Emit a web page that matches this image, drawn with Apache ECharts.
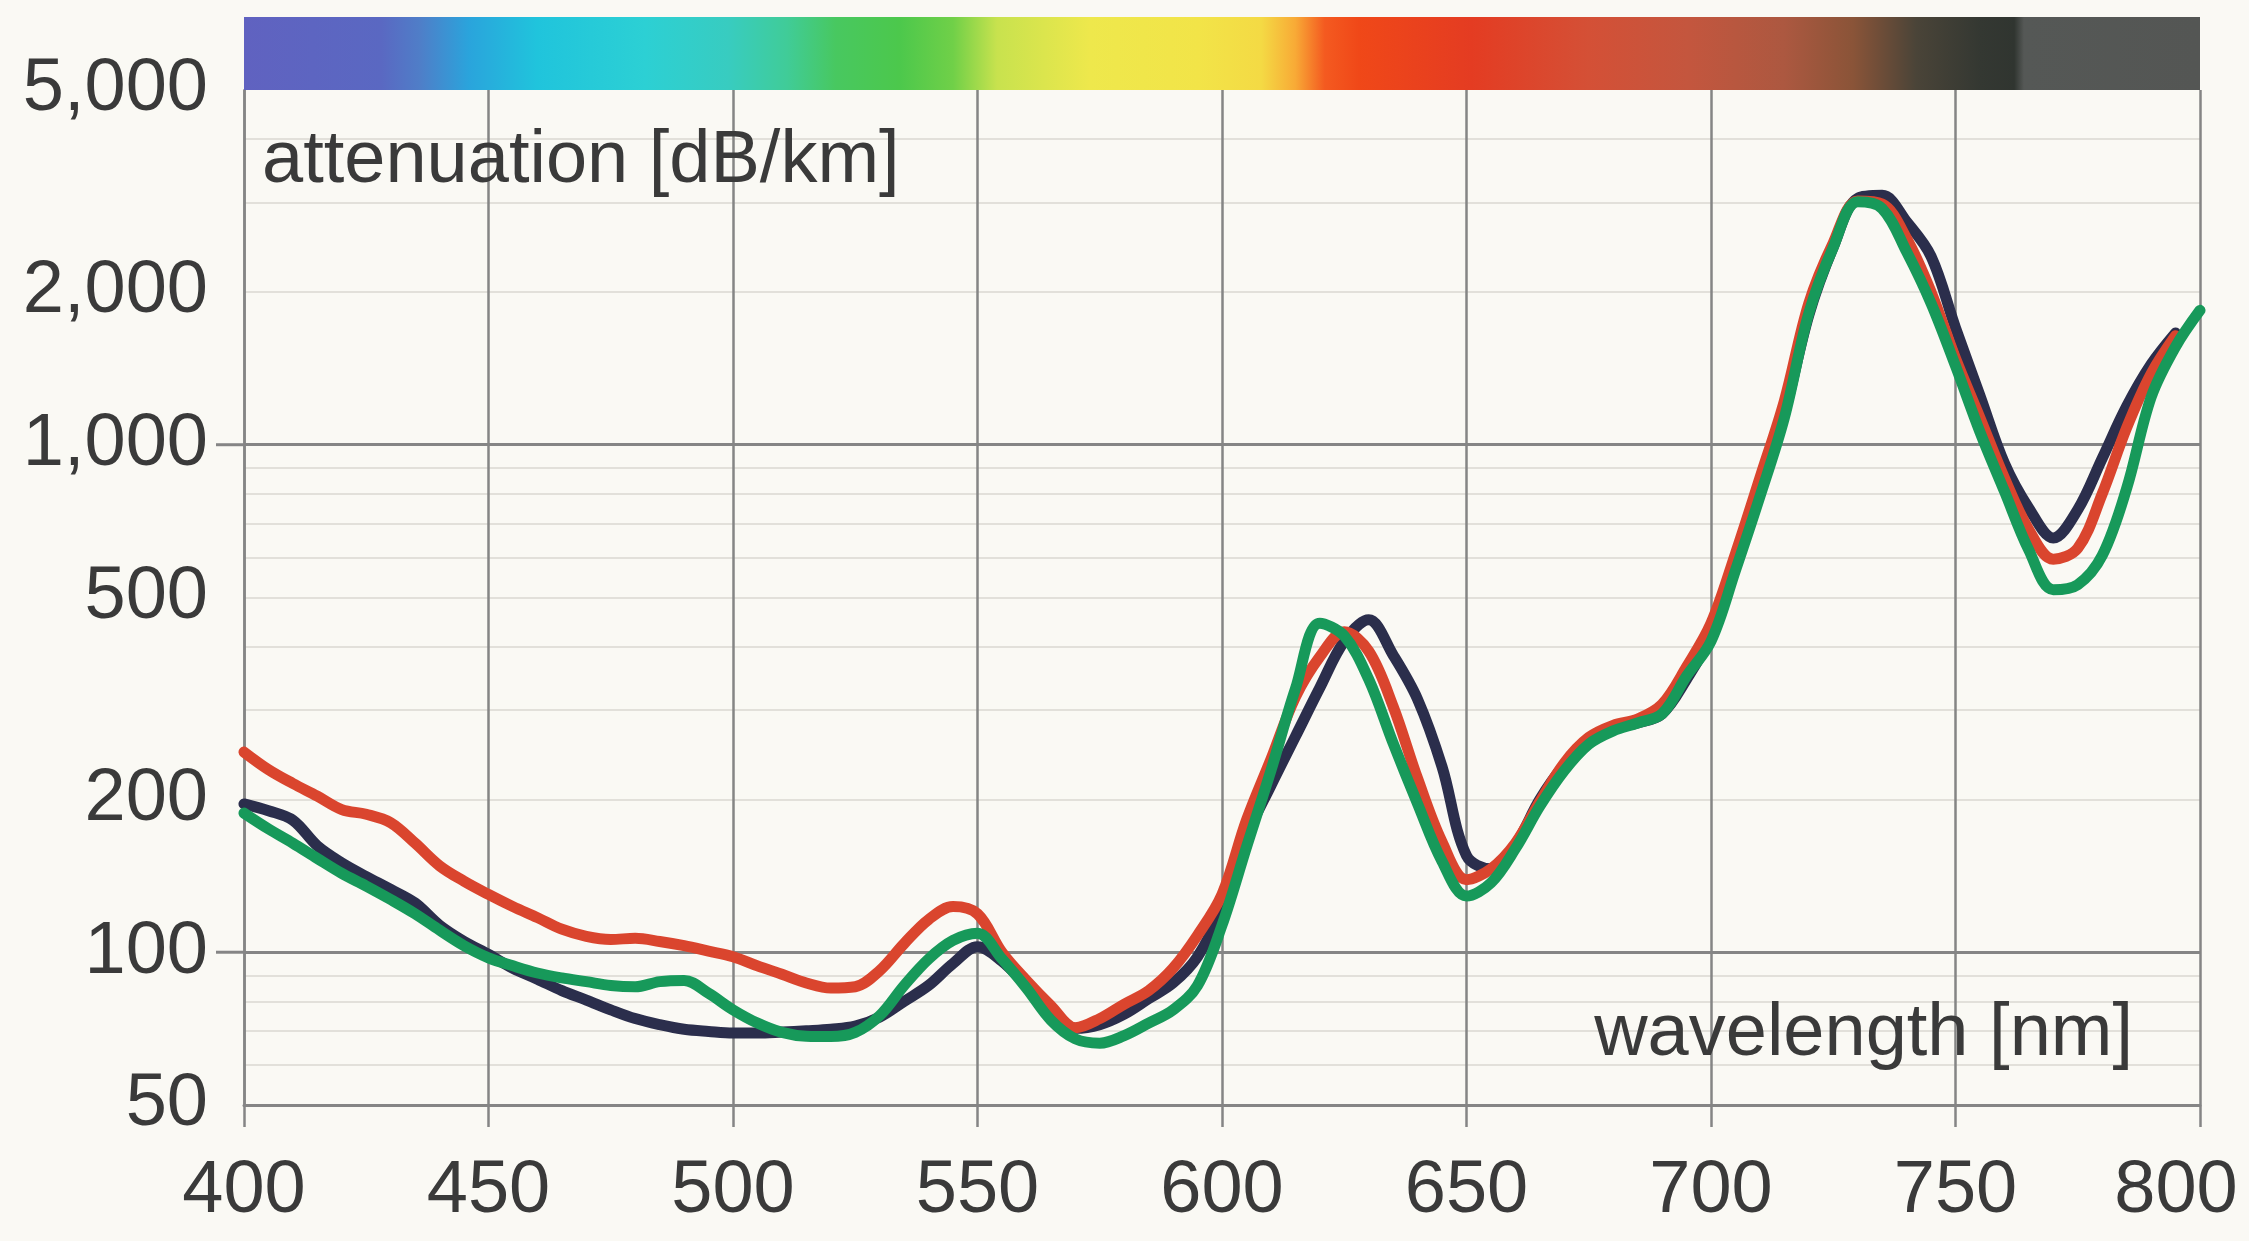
<!DOCTYPE html>
<html>
<head>
<meta charset="utf-8">
<title>attenuation spectrum</title>
<script src="https://cdn.jsdelivr.net/npm/echarts@6/dist/echarts.min.js"></script>
<style>
  html, body { margin: 0; padding: 0; background: #faf9f4; }
  #chart { width: 2249px; height: 1241px; }
</style>
</head>
<body>
<div id="chart"></div>
<script>
// wavelength [nm]
const wavelengths = [
  400, 405, 410, 415, 420, 425, 430, 435, 440, 445,
  450, 455, 460, 465, 470, 475, 480, 485, 490, 495,
  500, 505, 510, 515, 520, 525, 530, 535, 540, 545,
  550, 555, 560, 565, 570, 575, 580, 585, 590, 595,
  600, 605, 610, 615, 620, 625, 630, 635, 640, 645,
  650, 655, 660, 665, 670, 675, 680, 685, 690, 695,
  700, 705, 710, 715, 720, 725, 730, 735, 740, 745,
  750, 755, 760, 765, 770, 775, 780, 785, 790, 795,
  800
];

// attenuation [dB/km]
const navyFibre = [
  196, 190, 182, 162, 150, 141, 133, 125, 113, 105,
  99, 93, 88.5, 84, 80.5, 77, 74, 72, 70.5, 69.8,
  69.3, 69.3, 69.6, 70, 70.5, 71.5, 74.5, 80, 86, 95,
  102.5, 96, 86, 77, 70.8, 72, 75.5, 81, 87, 98,
  122, 169, 213, 266, 332, 410, 452, 385, 315, 232,
  155, 146, 163, 200, 234, 262, 276, 283, 295, 345,
  420, 580, 820, 1150, 1800, 2450, 3060, 3100, 2750, 2350,
  1700, 1250, 920, 750, 655, 745, 940, 1190, 1440, 1660,
  null
];

const redFibre = [
  248, 229, 215, 203, 191, 187, 180, 164, 148, 138,
  130, 123, 117, 111, 107.5, 106, 106.5, 105, 103, 100.5,
  98, 94, 90.5, 87, 85, 85.5, 92, 104, 116, 123,
  119, 100, 88, 78.5, 71, 74, 79, 84, 93, 108,
  130, 182, 240, 318, 382, 428, 392, 305, 220, 165,
  139, 146, 164, 198, 236, 265, 280, 288, 308, 365,
  445, 610, 860, 1220, 1900, 2500, 3020, 2980, 2550, 2000,
  1480, 1130, 860, 680, 595, 625, 800, 1080, 1380, 1640,
  null
];

const greenFibre = [
  188, 175, 164, 153, 143, 135, 127, 119, 110.5, 103,
  97.5, 94, 91, 89, 87.5, 86, 85.5, 87.5, 88, 83,
  77, 72.5, 69.5, 68.3, 68.2, 69.5, 75, 86, 97, 105.5,
  109, 97, 85, 73.5, 67.5, 66.2, 68.5, 72.5, 77, 86,
  113, 161, 228, 330, 445, 420, 345, 258, 196, 151,
  129, 137, 160, 194, 228, 257, 273, 283, 295, 350,
  410, 565, 790, 1130, 1815, 2450, 3010, 2920, 2400, 1900,
  1430, 1060, 810, 620, 518, 530, 605, 820, 1240, 1560,
  1840
];

// axis labels and grid lines
const yLabelValues = [50, 100, 200, 500, 1000, 2000, 5000];
const yMajorLines = [100, 1000];
const yMinorLines = [60, 70, 80, 90, 200, 300, 400, 500, 600, 700, 800, 900, 2000, 3000, 4000];

// colour strip of the visible spectrum (wavelength -> colour)
const spectrumNm = [400, 428, 436, 446, 460, 482, 499, 511, 521, 534, 545, 554, 573, 595, 608, 615, 621, 628, 651, 675, 695, 715, 729, 742, 755, 762, 764, 800];
const spectrumColors = ['#6062c0', '#5a68c2', '#4f7ec8', '#2aa4dc', '#20c4dc', '#2cd0d4', '#38ccc0', '#40cc98', '#48c860', '#4cc84c', '#70d048', '#c8e24e', '#eee84c', '#f2e448', '#f4da44', '#f8aa36', '#f45a20', '#f04818', '#e43c22', '#d45036', '#c4563e', '#ac5840', '#8a5438', '#4a4438', '#343832', '#303530', '#555856', '#545654'];

const FONT = 'Liberation Sans';
const TEXT = '#3a3a3a';
const GRID = '#858585';

const chart = echarts.init(document.getElementById('chart'));

const toPairs = (vals) => wavelengths.map((w, i) => [w, vals[i]]);
const fmtThousands = (v) => String(v).replace(/\B(?=(\d{3})+(?!\d))/g, ',');

const lineSeries = (name, vals, color, z) => ({
  name: name,
  type: 'line',
  data: toPairs(vals),
  showSymbol: false,
  smooth: 0.35,
  connectNulls: false,
  z: z,
  lineStyle: { color: color, width: 11, cap: 'round', join: 'round' },
  itemStyle: { color: color }
});

const option = {
  backgroundColor: '#faf9f4',
  animation: false,
  grid: { left: 244, right: 49, top: 90, bottom: 136 },
  xAxis: {
    type: 'value',
    min: 400,
    max: 800,
    interval: 50,
    axisLine: { show: true, lineStyle: { color: GRID, width: 3 } },
    axisTick: { show: true, length: 22, lineStyle: { color: GRID, width: 2.5 } },
    splitLine: { show: true, lineStyle: { color: GRID, width: 2.5 } },
    axisLabel: {
      margin: 50,
      fontSize: 74,
      fontFamily: FONT,
      color: TEXT,
      formatter: (v) => (v === 800 ? '{last|800}' : String(v)),
      rich: {
        last: { fontSize: 74, fontFamily: FONT, color: TEXT, padding: [0, 48, 0, 0] }
      }
    }
  },
  yAxis: [
    {
      type: 'log',
      logBase: 10,
      min: 50,
      max: 5000,
      axisLine: { show: true, lineStyle: { color: GRID, width: 2.5 } },
      axisTick: { show: false, customValues: yMajorLines },
      splitLine: { show: true, lineStyle: { color: GRID, width: 3 } },
      axisLabel: {
        customValues: yLabelValues,
        margin: 0,
        fontSize: 74,
        fontFamily: FONT,
        color: TEXT,
        // the short dash left of the 100 and 1,000 lines is part of the label
        formatter: (v) => fmtThousands(v) + (yMajorLines.indexOf(v) >= 0 ? '{gap|}{dash|}' : '{pad|}'),
        rich: {
          gap: { width: 8, height: 3 },
          dash: { width: 28, height: 3, backgroundColor: GRID },
          pad: { width: 36, height: 3 }
        }
      }
    },
    {
      type: 'log',
      logBase: 10,
      min: 50,
      max: 5000,
      axisLine: { show: false },
      axisTick: { show: false, customValues: yMinorLines },
      axisLabel: { show: false },
      splitLine: { show: true, lineStyle: { color: '#e2e0da', width: 2 } }
    }
  ],
  series: [
    lineSeries('navy', navyFibre, '#2b2e4c', 3),
    lineSeries('red', redFibre, '#da452e', 4),
    lineSeries('green', greenFibre, '#17995a', 5)
  ]
};

chart.setOption(option);

// spectrum strip and axis titles, placed from the axis scale
const x0 = chart.convertToPixel({ xAxisIndex: 0 }, 400);
const x1 = chart.convertToPixel({ xAxisIndex: 0 }, 800);
const yTop = chart.convertToPixel({ yAxisIndex: 0 }, 5000);
const span = spectrumNm[spectrumNm.length - 1] - spectrumNm[0];

chart.setOption({
  graphic: [
    {
      type: 'rect',
      shape: { x: x0, y: 17, width: x1 - x0, height: yTop - 17 },
      style: {
        fill: new echarts.graphic.LinearGradient(0, 0, 1, 0,
          spectrumNm.map((nm, i) => ({ offset: (nm - spectrumNm[0]) / span, color: spectrumColors[i] })))
      },
      z: 10
    },
    {
      type: 'text',
      left: 262,
      top: 125,
      style: { text: 'attenuation [dB/km]', fontSize: 74, fontFamily: FONT, fill: TEXT },
      z: 10
    },
    {
      type: 'text',
      right: 2249 - 2133,
      top: 998,
      style: { text: 'wavelength [nm]', fontSize: 74, fontFamily: FONT, fill: TEXT },
      z: 10
    }
  ]
});
</script>
</body>
</html>
